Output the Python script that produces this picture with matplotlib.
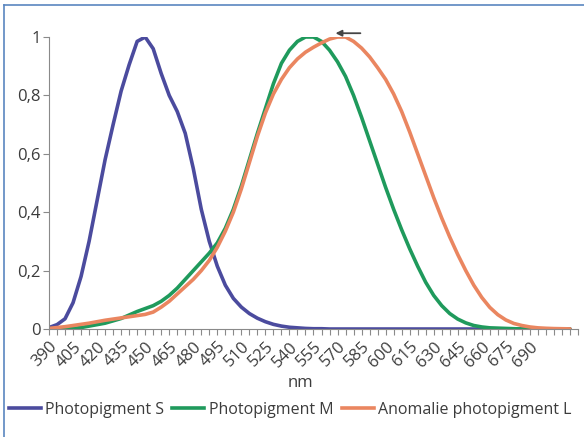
import numpy as np
import matplotlib.pyplot as plt
from matplotlib.lines import Line2D

# wavelength in nm, one sample every 5 nm
wavelength = list(range(390, 720, 5))

# photopigment S
pigment_s = [0.005, 0.015, 0.035, 0.09, 0.18, 0.30, 0.44, 0.58, 0.70, 0.815,
             0.905, 0.985, 1.0, 0.96, 0.875, 0.80, 0.745, 0.67, 0.55, 0.41,
             0.30, 0.215, 0.15, 0.105, 0.075, 0.053, 0.037, 0.025, 0.016, 0.01,
             0.006, 0.004, 0.002, 0.001, 0.001, 0.0, 0.0, 0.0, 0.0, 0.0,
             0.0, 0.0, 0.0, 0.0, 0.0, 0.0, 0.0, 0.0, 0.0, 0.0,
             0.0, 0.0, 0.0, 0.0, 0.0, 0.0, 0.0, 0.0, 0.0, 0.0,
             0.0, 0.0, 0.0, 0.0, 0.0, 0.0]

# photopigment M
pigment_m = [0.0, 0.0, 0.0, 0.002, 0.005, 0.01, 0.015, 0.02, 0.028, 0.036,
             0.048, 0.06, 0.07, 0.08, 0.095, 0.115, 0.14, 0.17, 0.20, 0.23,
             0.26, 0.295, 0.345, 0.41, 0.49, 0.58, 0.67, 0.755, 0.84, 0.91,
             0.955, 0.985, 1.0, 1.0, 0.985, 0.955, 0.915, 0.865, 0.80, 0.725,
             0.645, 0.565, 0.485, 0.41, 0.34, 0.275, 0.215, 0.16, 0.115, 0.08,
             0.053, 0.034, 0.021, 0.012, 0.007, 0.004, 0.003, 0.002, 0.001, 0.0,
             0.0, 0.0, 0.0, 0.0, 0.0, 0.0]

# anomalous L photopigment
pigment_l = [0.002, 0.005, 0.008, 0.012, 0.016, 0.02, 0.025, 0.03, 0.034, 0.038,
             0.042, 0.046, 0.05, 0.058, 0.075, 0.095, 0.12, 0.145, 0.17, 0.20,
             0.235, 0.28, 0.335, 0.40, 0.48, 0.57, 0.66, 0.74, 0.805, 0.855,
             0.895, 0.925, 0.948, 0.965, 0.98, 0.993, 1.0, 1.0, 0.985, 0.962,
             0.932, 0.895, 0.855, 0.805, 0.745, 0.675, 0.60, 0.525, 0.45, 0.38,
             0.315, 0.255, 0.20, 0.15, 0.108, 0.074, 0.049, 0.031, 0.019, 0.012,
             0.007, 0.004, 0.0025, 0.0015, 0.001, 0.0005]

labels = ['Photopigment S', 'Photopigment M', 'Anomalie photopigment L']
colors = ['#4b4b9e', '#1f9a5c', '#ea8660']

plt.rcParams['font.family'] = ['Open Sans', 'DejaVu Sans']
text_col = '#3c3c3c'

fig = plt.figure(figsize=(5.84, 4.37), dpi=100)
ax = fig.add_axes([0.0839, 0.2471, 0.9058, 0.6682])

for series, col, lab in zip([pigment_s, pigment_m, pigment_l], colors, labels):
    ax.plot(wavelength, series, color=col, lw=2.6, label=lab,
            solid_capstyle='round', solid_joinstyle='round')

ax.set_xlim(390, 720)
ax.set_ylim(0, 1)

ax.set_xticks(range(390, 691, 15))
ax.set_xticks(range(390, 721, 5), minor=True)
ax.set_xticklabels([str(v) for v in range(390, 691, 15)], rotation=45,
                   ha='right', va='top', rotation_mode='anchor', fontsize=12,
                   color=text_col)
ax.set_yticks([0, 0.2, 0.4, 0.6, 0.8, 1.0])
ax.set_yticklabels(['0', '0,2', '0,4', '0,6', '0,8', '1'], fontsize=12,
                   color=text_col)
ax.tick_params(axis='x', which='both', length=4, width=0.8, color='#8a8a8a', pad=3)
ax.tick_params(axis='y', length=4, width=0.8, color='#8a8a8a', pad=2)
ax.set_xlabel('nm', fontsize=12, color=text_col, va='center')
ax.xaxis.set_label_coords(0.4745, -0.186)

for side in ['top', 'right']:
    ax.spines[side].set_visible(False)
ax.spines['left'].set_color('#8a8a8a')
ax.spines['bottom'].set_color('#8a8a8a')

# arrow pointing at the shifted L peak
ax.annotate('', xy=(567, 1.013), xytext=(586, 1.013), annotation_clip=False,
            arrowprops=dict(arrowstyle='-|>', color='#454545', lw=1.3,
                            mutation_scale=9))

handles = [Line2D([], [], color=c, lw=2.6) for c in colors]
fig.legend(handles, labels, loc='center', bbox_to_anchor=(0.497, 0.062), ncol=3,
           frameon=False, fontsize=11.5, handlelength=2.0, handletextpad=0.3,
           columnspacing=0.5, labelcolor=text_col)

# thin blue frame around the chart
fig.add_artist(Line2D([0.006, 0.006], [0.0, 0.989], color='#5a86c0', lw=1.2))
fig.add_artist(Line2D([0.006, 1.0], [0.989, 0.989], color='#5a86c0', lw=1.2))

fig.savefig('out.png', dpi=100)
